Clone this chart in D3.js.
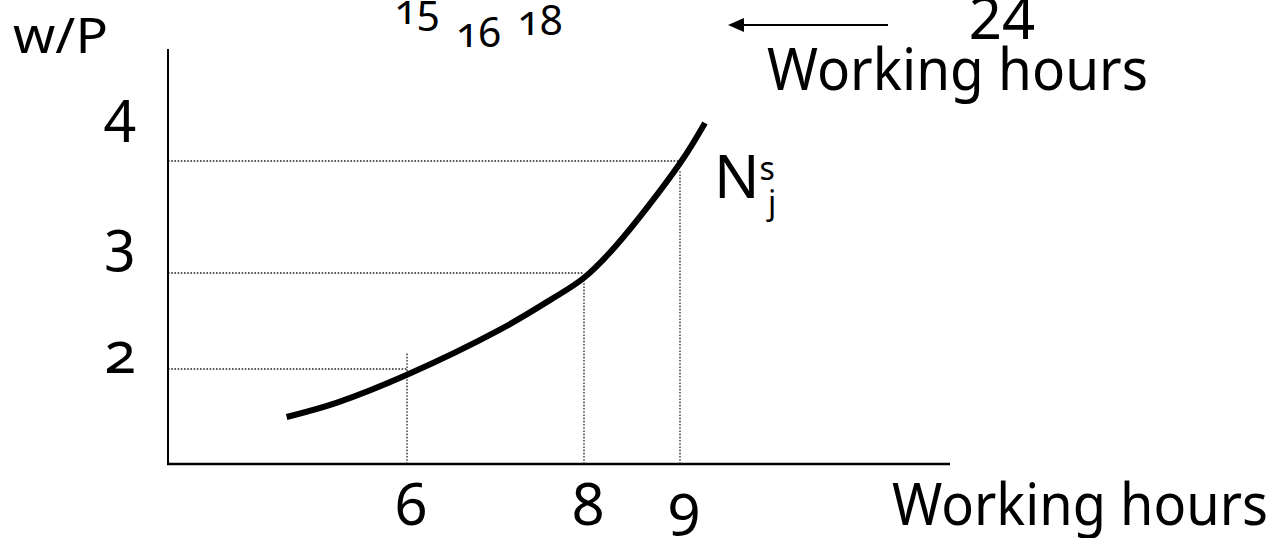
<!DOCTYPE html>
<html>
<head>
<meta charset="utf-8">
<script src="https://cdn.jsdelivr.net/npm/d3@7"></script>
<style>
  html, body { margin: 0; padding: 0; background: #fff; }
  svg { display: block; font-family: "Noto Sans", "Open Sans", sans-serif; }
  .onum { font-variant-numeric: oldstyle-nums; font-feature-settings: "onum" 1; }
</style>
</head>
<body>
<svg id="chart" width="1278" height="538"></svg>
<script>
// Labour supply of worker j: hours worked against the real wage w/P

// Working-hour ticks and the real wage offered at each of them
const hourTicks = [6, 8, 9];
const wageTicks = [2, 3, 4];
// Leisure hours (hours in a day minus hours worked)
const leisureTicks = [15, 16, 18];
const dayLength = 24;
// Upper end of each vertical guide, in wage units
const guideTops = [2.17, 2.98, 3.92];

// Supply curve N^s_j
const supplyHours = [4.64, 5.21, 6.0, 7.05, 7.62, 8.0, 8.34, 9.0, 9.26];
const supplyWage  = [1.50, 1.65, 1.94, 2.41, 2.72, 2.95, 3.25, 3.98, 4.34];

// ---- layout ----
const originX = 168, originY = 464, axisTop = 49, axisRight = 950;
const x = d3.scaleLinear().domain(hourTicks).range([407, 584, 680]);
const y = d3.scaleLinear().domain(wageTicks).range([369, 273, 161]);
const leisureX = d3.scalePoint().domain(leisureTicks).range([417, 540]);
const leisureBaseline = [24, 47, 35];
const wageLabelShift = [4, -12, -29];

const svg = d3.select("#chart");

// arrow head pointing towards fewer working hours
svg.append("defs").append("marker")
  .attr("id", "head")
  .attr("viewBox", "0 0 16 14")
  .attr("refX", 0).attr("refY", 7)
  .attr("markerWidth", 16).attr("markerHeight", 14)
  .attr("markerUnits", "userSpaceOnUse")
  .attr("orient", "auto")
  .append("path").attr("d", "M0,0 L16,7 L0,14 Z").attr("fill", "#000");

// dotted guides from each (hours, wage) pair to the axes
const guides = svg.append("g")
  .attr("stroke", "#222").attr("stroke-width", 1.3)
  .attr("stroke-dasharray", "1.6 1.6").attr("fill", "none");

hourTicks.forEach((h, i) => {
  guides.append("line")
    .attr("x1", originX).attr("x2", x(h))
    .attr("y1", y(wageTicks[i])).attr("y2", y(wageTicks[i]));
  guides.append("line")
    .attr("x1", x(h)).attr("x2", x(h))
    .attr("y1", originY).attr("y2", y(guideTops[i]));
});

// axes
svg.append("line")
  .attr("x1", originX).attr("x2", originX)
  .attr("y1", axisTop).attr("y2", originY + 1)
  .attr("stroke", "#000").attr("stroke-width", 2);
svg.append("line")
  .attr("x1", originX - 1).attr("x2", axisRight)
  .attr("y1", originY).attr("y2", originY)
  .attr("stroke", "#000").attr("stroke-width", 2.5);

// supply curve
const pts = supplyHours.map((h, i) => [h, supplyWage[i]]);
svg.append("path")
  .datum(pts)
  .attr("fill", "none")
  .attr("stroke", "#000")
  .attr("stroke-width", 6)
  .attr("d", d3.line().x(d => x(d[0])).y(d => y(d[1])).curve(d3.curveCatmullRom.alpha(0.5)));

// tick labels
svg.append("g").selectAll("text")
  .data(wageTicks).join("text")
  .attr("class", "onum")
  .attr("x", 120)
  .attr("y", (d, i) => y(d) + wageLabelShift[i])
  .attr("text-anchor", "middle")
  .attr("font-size", 58)
  .text(d => d);

svg.append("g").selectAll("text")
  .data(hourTicks).join("text")
  .attr("class", "onum")
  .attr("x", d => x(d) + 4)
  .attr("y", 525)
  .attr("text-anchor", "middle")
  .attr("font-size", 58)
  .text(d => d);

// leisure labels along the top
svg.append("g").selectAll("text")
  .data(leisureTicks).join("text")
  .attr("class", "onum")
  .attr("x", d => leisureX(d))
  .attr("y", (d, i) => leisureBaseline[i])
  .attr("text-anchor", "middle")
  .attr("font-size", 41)
  .text(d => d);

svg.append("text")
  .attr("x", 1002).attr("y", 39)
  .attr("text-anchor", "middle")
  .attr("font-size", 58)
  .text(dayLength);

svg.append("line")
  .attr("x1", 888).attr("x2", 744)
  .attr("y1", 25).attr("y2", 25)
  .attr("stroke", "#000").attr("stroke-width", 2)
  .attr("marker-end", "url(#head)");

// axis titles
svg.append("text")
  .attr("x", 13).attr("y", 53)
  .attr("font-size", 50)
  .attr("textLength", 95).attr("lengthAdjust", "spacingAndGlyphs")
  .text("w/P");

svg.append("text")
  .attr("x", 767).attr("y", 90)
  .attr("font-size", 59)
  .attr("textLength", 381).attr("lengthAdjust", "spacingAndGlyphs")
  .text("Working hours");

svg.append("text")
  .attr("x", 892).attr("y", 525)
  .attr("font-size", 59)
  .attr("textLength", 376).attr("lengthAdjust", "spacingAndGlyphs")
  .text("Working hours");

// curve label N^s_j
const lab = svg.append("text").attr("x", 714).attr("y", 198);
lab.append("tspan").attr("font-size", 60).text("N");
lab.append("tspan").attr("font-size", 32).attr("dy", -18).text("s");
lab.append("tspan").attr("font-size", 32).attr("x", 768).attr("dy", 34).text("j");
</script>
</body>
</html>
